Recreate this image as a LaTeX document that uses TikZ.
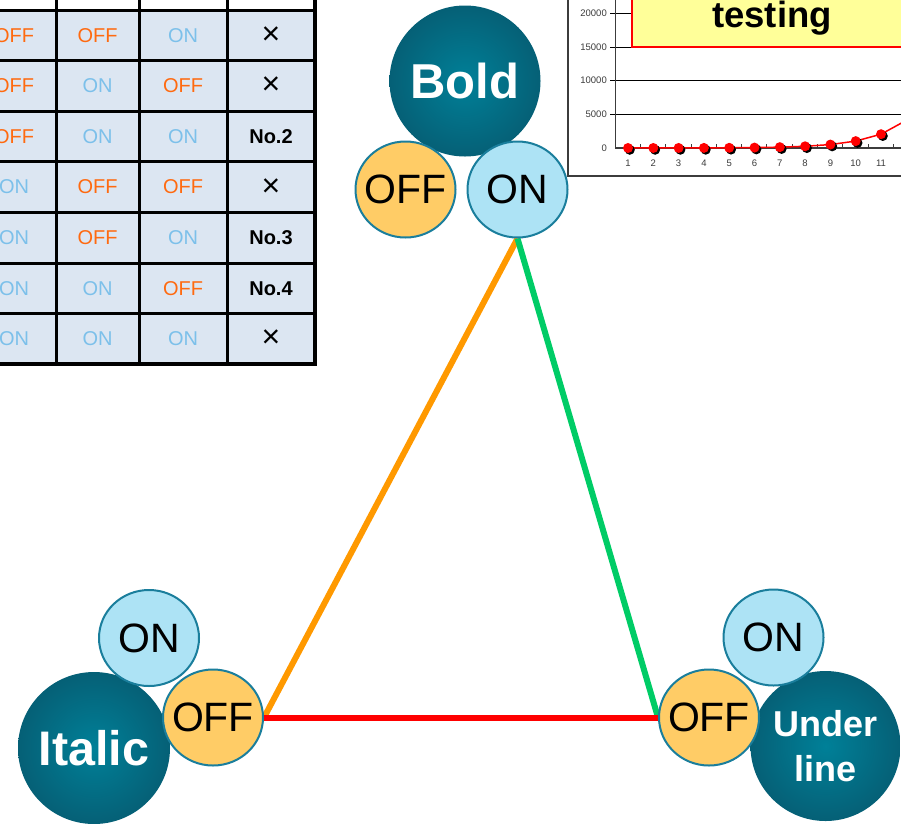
\documentclass[tikz,border=0pt]{standalone}
\usepackage{fontspec}
\setmainfont{Liberation Sans}
\usetikzlibrary{shapes.geometric,backgrounds}
\definecolor{colOFF}{RGB}{255,106,16}
\definecolor{colON}{RGB}{124,192,234}
\definecolor{cellbg}{RGB}{220,230,242}
\definecolor{offfill}{RGB}{255,204,102}
\definecolor{onfill}{RGB}{173,227,245}
\definecolor{ringc}{RGB}{26,126,156}
\definecolor{ballin}{RGB}{0,128,152}
\definecolor{ballmid}{RGB}{6,92,114}
\definecolor{ballout}{RGB}{5,56,72}
\definecolor{ybox}{RGB}{255,255,153}
\definecolor{lorange}{RGB}{255,153,0}
\definecolor{lgreen}{RGB}{0,204,102}
\definecolor{axgray}{RGB}{60,60,60}
\pgfdeclareradialshading{ballshade}{\pgfpoint{0bp}{0bp}}{color(0bp)=(ballin); color(28bp)=(ballmid); color(48bp)=(ballout); color(50bp)=(ballout)}
\newcommand\XX{{\fontsize{32}{32}\selectfont ×}}
\newcommand\BB[1]{{\bfseries #1}}
\newcommand\ZW[1]{\makebox[0pt]{#1}}
\begin{document}
\begin{tikzpicture}[x=1pt,y=-1pt,
  ball/.style={circle,shade,shading=ballshade,inner sep=0pt,text=white,font=\bfseries},
  swoff/.style={ellipse,draw=ringc,line width=2pt,fill=offfill,minimum width=100pt,minimum height=96pt,inner sep=0pt,font=\fontsize{41}{41}\selectfont},
  swon/.style={swoff,fill=onfill},
  tbtxt/.style={text=col#1,font=\fontsize{20}{20}\selectfont,inner sep=0pt},
  tbres/.style={text=black,font=\fontsize{20}{20}\selectfont,inner sep=0pt},
  link/.style={line width=6pt},
  axlab/.style={font=\fontsize{9.5}{9.5}\selectfont,text=axgray,inner sep=0pt}]
\useasboundingbox (0,0) rectangle (901,823);
\clip (0,0) rectangle (901,823);
% ---------- table ----------
\fill[cellbg] (-30,10) rectangle (315,364.2);
\foreach \a/\b/\c/\d [count=\r] in {OFF/OFF/ON/\XX, OFF/ON/OFF/\XX, OFF/ON/ON/\BB{No.2}, ON/OFF/OFF/\XX, ON/OFF/ON/\BB{No.3}, ON/ON/OFF/\BB{No.4}, ON/ON/ON/\XX}{
  \pgfmathsetmacro\yy{10+(\r-0.5)*50.6}
  \node[tbtxt=\a] (t\r a) at (14,\yy) {\a};
  \node[tbtxt=\b] (t\r b) at (97.5,\yy) {\b};
  \node[tbtxt=\c] (t\r c) at (183,\yy) {\c};
  \node[tbres] (t\r d) at (271,\yy) {\d};
}
\foreach \k in {0,...,6}{
  \draw[line width=3pt] (-30,{10+\k*50.6}) -- (315,{10+\k*50.6});
}
\draw[line width=4pt] (-30,364.2) -- (317,364.2);
\foreach \xx in {56,139,227}{
  \draw[line width=3pt] (\xx,-5) -- (\xx,364.2);
}
\draw[line width=4pt] (315,-5) -- (315,366);
% ---------- chart ----------
\draw[fill=white,draw=axgray,line width=2.5pt] (568,-10) rectangle (920,176);
\foreach \yv in {13.3,47,80.3,114}{
  \draw[line width=0.8pt] (610,\yv) -- (905,\yv);
}
\foreach \yv/\lab [count=\i] in {13.3/20000,47/15000,80.3/10000,114/5000,148/0}{
  \node[axlab,anchor=east] (yl\i) at (607,\yv) {\lab};
}
\draw[fill=ybox,draw=red,line width=1.5pt] (632,-10) rectangle (920,47);
\node[font=\fontsize{36.5}{36.5}\selectfont\bfseries,anchor=base,inner sep=0pt] (testing) at (772,27) {testing};
\draw[line width=1pt,axgray] (615,-5) -- (615,148);
\draw[line width=2pt,axgray] (615,148) -- (905,148);
\foreach \k in {1,...,12}{
  \draw[line width=0.8pt,axgray] ({615+\k*25.3},148) -- ({615+\k*25.3},144);
}
\foreach \k in {1,...,11}{
  \node[axlab] (xl\k) at ({628+(\k-1)*25.3},163) {\k};
}
\draw[red,line width=1.5pt] plot[domain=1:12,samples=12] ({628+(\x-1)*25.3},{148-2^\x*0.00674});
\foreach \k in {1,...,12}{
  \pgfmathsetmacro\px{628+(\k-1)*25.3}
  \pgfmathsetmacro\py{148-2^\k*0.00674}
  \fill[black] (\px+1.8,\py+1.8) circle (5pt);
  \fill[red] (\px,\py) circle (5pt);
}
% ---------- switches ----------
\node[ball,minimum size=151pt,font=\fontsize{49}{49}\selectfont\bfseries] (bold) at (465,81) {Bold};
\node[swoff] (boff) at (405.5,189.5) {\ZW{OFF}};
\node[swon] (bon) at (517.5,189.5) {\ZW{ON}};

\node[ball,minimum size=152pt,font=\fontsize{48.5}{48.5}\selectfont\bfseries] (italic) at (94,748) {Italic};
\node[swon] (ion) at (149,638) {\ZW{ON}};
\node[swoff] (ioff) at (213,717.5) {\ZW{OFF}};

\node[ball,minimum size=150pt,align=center,font=\fontsize{36}{45}\selectfont\bfseries] (under) at (825.5,746) {Under\\line};
\node[swon] (uon) at (773.5,637.5) {\ZW{ON}};
\node[swoff] (uoff) at (709,717.5) {\ZW{OFF}};

\begin{pgfonlayer}{background}
\draw[link,lorange] (bon.south) -- (ioff.east);
\draw[link,lgreen] (bon.south) -- (uoff.west);
\draw[link,red] (ioff.east) -- (uoff.west);
\end{pgfonlayer}
\end{tikzpicture}
\end{document}
